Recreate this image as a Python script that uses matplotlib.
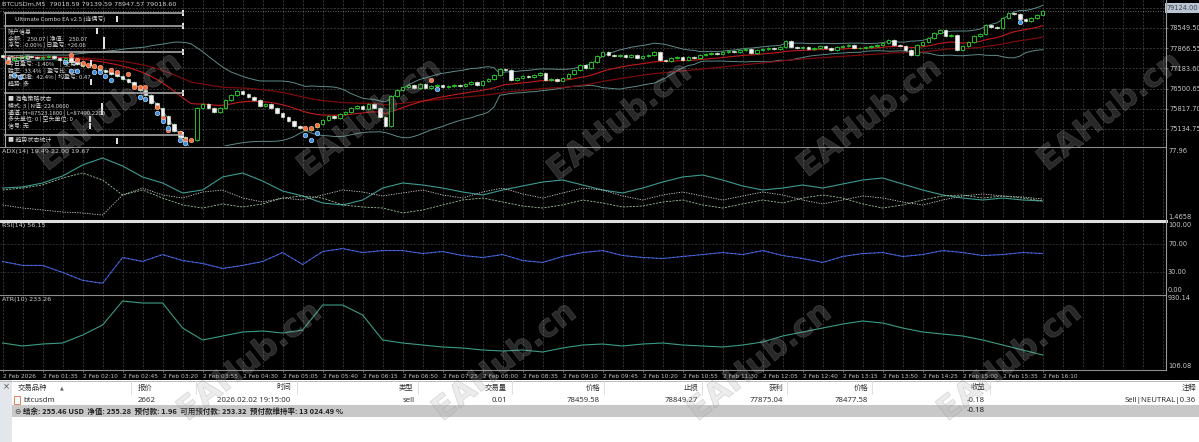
import numpy as np
import pandas as pd
import matplotlib
matplotlib.use("Agg")
import matplotlib.pyplot as plt
from matplotlib.patches import Rectangle
import matplotlib.patheffects as pe

plt.rcParams['font.family'] = ['Noto Sans CJK SC', 'DejaVu Sans']

W, H = 1199, 442

# ---------------- data ----------------
first_open = 77636
closes = [
    77569, 77467, 77535, 77569, 77603, 77569, 77535, 77569, 77603, 77535,
    77467, 77535, 77400, 77332, 77265, 77231, 77265, 77129, 77062, 76994,
    76926, 76825, 76724, 76588, 76453, 76284, 76014, 75845, 75574, 75304,
    75067, 74864, 74729, 74763, 75845, 75980, 75845, 75709, 75845, 76115,
    76284, 76419, 76318, 76216, 76115, 75912, 75980, 75845, 75676, 75540,
    75405, 75236, 75168, 75101, 75202, 75304, 75439, 75574, 75506, 75642,
    75709, 75845, 75912, 75811, 75980, 75845, 75540, 75236, 76250, 76453,
    76555, 76622, 76521, 76656, 76521, 76588, 76622, 76555, 76588, 76622,
    76588, 76656, 76724, 76622, 76757, 76825, 76960, 77163, 77129, 76791,
    76859, 76926, 76893, 76960, 77028, 76791, 76825, 76757, 76859, 76994,
    77129, 77298, 77197, 77400, 77603, 77738, 77636, 77603, 77636, 77569,
    77636, 77535, 77603, 77636, 77738, 77467, 77434, 77535, 77569, 77467,
    77569, 77535, 77636, 77670, 77704, 77670, 77738, 77772, 77738, 77806,
    77839, 77704, 77806, 77839, 77873, 77839, 77907, 78110, 77907, 77873,
    77907, 77839, 77873, 77941, 77873, 77806, 77907, 77941, 77975, 77873,
    77873, 77907, 77941, 77975, 78042, 78144, 77975, 77941, 77806, 77636,
    77975, 78076, 78211, 78380, 78482, 78279, 78313, 77806, 77941, 78076,
    78279, 78346, 78651, 78583, 78549, 78887, 79057, 79023, 78854, 78786,
    78887, 78989, 79124]
wick = 45

sell_idx = [1, 12, 13, 14, 15, 16, 17, 19, 20, 22, 23, 24, 25, 27, 28, 29, 31, 32, 33, 53, 54, 55, 75]
sell_px = [77400, 77636, 77467, 77366, 77298, 77265, 77231, 77129, 77062, 76994, 76555, 76555, 76555,
           75878, 75506, 75101, 75000, 74763, 74763, 75168, 75168, 75270, 76791]
buy_idx = [2, 3, 11, 12, 13, 16, 17, 18, 19, 24, 25, 27, 28, 29, 31, 32, 53, 54, 55, 76, 178]
buy_px = [76960, 76893, 77400, 77095, 77095, 77062, 77062, 76926, 76791, 76216, 76149, 75676, 75405,
          75168, 74763, 74661, 74932, 74763, 75000, 76487, 78752]

adx_vals = [34.4, 35.6, 40.0, 47.8, 60.0, 67.8, 58.9, 46.7, 40.0, 28.9, 32.2, 46.7, 51.1, 42.2, 31.1,
            25.6, 17.8, 15.6, 21.1, 34.4, 40.0, 37.8, 34.4, 30.0, 26.7, 32.2, 36.7, 41.1, 43.3, 37.8,
            32.2, 28.9, 34.4, 41.1, 46.7, 48.9, 43.3, 36.7, 32.2, 34.4, 37.8, 34.4, 38.9, 43.3, 45.6,
            38.9, 32.2, 26.7, 23.3, 21.1, 23.3, 21.1, 20.0]
plus_di = [15.6, 12.2, 10.0, 7.8, 6.7, 4.4, 26.7, 34.4, 26.7, 23.3, 30.0, 32.2, 23.3, 18.9, 23.3,
           21.1, 26.7, 32.2, 30.0, 25.6, 28.9, 32.2, 26.7, 23.3, 30.0, 34.4, 27.8, 23.3, 28.9, 34.4,
           32.2, 25.6, 21.1, 26.7, 30.0, 25.6, 21.1, 25.6, 30.0, 26.7, 21.1, 16.7, 21.1, 25.6, 23.3,
           18.9, 15.6, 21.1, 25.6, 27.8, 25.6, 24.4, 22.2]
minus_di = [32.2, 34.4, 37.8, 45.6, 51.1, 43.3, 26.7, 32.2, 23.3, 15.6, 12.2, 16.7, 13.3, 16.7, 23.3,
            25.6, 23.3, 15.6, 13.3, 12.2, 6.7, 10.0, 15.6, 21.1, 23.3, 18.9, 14.4, 12.2, 15.6, 21.1,
            17.8, 13.3, 14.4, 18.9, 21.1, 15.6, 12.2, 16.7, 21.1, 17.8, 23.3, 26.7, 23.3, 16.7, 12.2,
            15.6, 21.1, 25.6, 26.7, 23.3, 25.6, 23.3, 20.0]
rsi_vals = [45.2, 39.7, 39.7, 30.0, 19.0, 14.8, 50.7, 45.2, 54.8, 46.5, 42.4, 35.5, 39.7, 45.2, 57.6,
            41.0, 59.0, 63.1, 57.6, 60.3, 60.3, 56.2, 59.0, 53.4, 50.7, 54.8, 46.5, 43.8, 52.1, 57.6,
            60.3, 53.4, 50.7, 49.3, 52.1, 54.8, 57.6, 54.8, 60.3, 53.4, 49.3, 43.8, 52.1, 56.2, 57.6,
            52.1, 54.8, 60.3, 57.6, 53.4, 54.8, 57.6, 56.2]
atr_vals = [392.6, 356.8, 380.7, 392.6, 488.2, 607.6, 894.1, 870.2, 870.2, 571.7, 428.5, 476.2, 524.0,
            535.9, 512.0, 547.9, 846.4, 846.4, 727.0, 428.5, 392.6, 368.8, 344.9, 333.0, 309.1, 297.1,
            309.1, 285.2, 333.0, 368.8, 380.7, 356.8, 380.7, 392.6, 368.8, 356.8, 344.9, 368.8, 404.5,
            476.2, 524.0, 571.7, 619.5, 655.3, 631.4, 571.7, 524.0, 500.1, 476.2, 428.5, 368.8, 309.1,
            249.4]
ind_step = 3.5  # bars between indicator samples

time_labels = ["2 Feb 2026", "2 Feb 01:35", "2 Feb 02:10", "2 Feb 02:45", "2 Feb 03:20", "2 Feb 03:55",
               "2 Feb 04:30", "2 Feb 05:05", "2 Feb 05:40", "2 Feb 06:15", "2 Feb 06:50", "2 Feb 07:25",
               "2 Feb 08:00", "2 Feb 08:35", "2 Feb 09:10", "2 Feb 09:45", "2 Feb 10:20", "2 Feb 10:55",
               "2 Feb 11:30", "2 Feb 12:05", "2 Feb 12:40", "2 Feb 13:15", "2 Feb 13:50", "2 Feb 14:25",
               "2 Feb 15:00", "2 Feb 15:35", "2 Feb 16:10"]
price_grid = [79232.45, 78549.50, 77866.55, 77183.60, 76500.65, 75817.70, 75134.75]

table_headers = ["交易品种", "报价", "时间", "类型", "交易量", "价格", "止损", "获利", "价格", "收益", "注释"]
table_row = ["btcusdm", "2662", "2026.02.02 19:15:00", "sell", "0.01", "78459.58", "78849.27",
             "77875.04", "78477.58", "-0.18", "Sell|NEUTRAL|0.36"]
summary_text = "结余: 255.46 USD  净值: 255.28  预付款: 1.96  可用预付款: 253.32  预付款维持率: 13 024.49 %"
summary_profit = "-0.18"

# ---------------- figure ----------------
fig = plt.figure(figsize=(W / 100, H / 100), dpi=100)
fig.patch.set_facecolor('black')

XMIN, XMAX = -0.45, 203.4
GRID_C = '#4a4a4a'


def add_ax(x, y, w, h):
    a = fig.add_axes([x / W, 1 - (y + h) / H, w / W, h / H])
    a.set_facecolor('black')
    for s in a.spines.values():
        s.set_visible(False)
    a.set_xlim(XMIN, XMAX)
    a.tick_params(left=False, bottom=False, labelleft=False, labelbottom=False)
    a.vlines(np.arange(0, XMAX, 3.5), -1e6, 1e6, color=GRID_C, lw=0.5, ls=(0, (3, 2)), zorder=0)
    return a


ax = add_ax(0, 0, 1165, 146)
ax_adx = add_ax(0, 147, 1165, 72)
ax_rsi = add_ax(0, 222, 1165, 72)
ax_atr = add_ax(0, 295, 1165, 74)

# ---- main price pane ----
ax.set_ylim(74560, 79496)
ax.hlines(price_grid, XMIN, XMAX, color=GRID_C, lw=0.5, ls=(0, (3, 2)), zorder=0)

c = np.array(closes, float)
o = np.concatenate([[first_open], c[:-1]])
idx = np.arange(len(c))
hi = np.maximum(o, c) + wick
lo = np.minimum(o, c) - wick
up = c >= o
body_b = np.minimum(o, c)
body_h = np.maximum(np.abs(c - o), 14)

s = pd.Series(c)
mid = s.rolling(20, min_periods=1).mean()
sd = s.rolling(20, min_periods=1).std(ddof=0).fillna(0)
ema20 = s.ewm(span=20, adjust=False).mean()
ema50 = s.ewm(span=50, adjust=False).mean()
ax.plot(idx, mid + 2 * sd, color='#5f8a8a', lw=0.7, zorder=2)
ax.plot(idx, mid - 2 * sd, color='#5f8a8a', lw=0.7, zorder=2)
ax.plot(idx, ema50, color='#7a0c0c', lw=0.9, zorder=2)
ax.plot(idx, ema20, color='#c41a1a', lw=0.8, zorder=2)

ax.vlines(idx, lo, hi, color='#22c022', lw=0.7, zorder=3)
ax.bar(idx[up], body_h[up], bottom=body_b[up], width=0.62, color='black', edgecolor='#22c022',
       lw=0.7, zorder=4)
ax.bar(idx[~up], body_h[~up], bottom=body_b[~up], width=0.62, color='#f4f4f4', edgecolor='#f4f4f4',
       lw=0.4, zorder=4)

ax.scatter(sell_idx, sell_px, s=11, c='#ee6f3f', edgecolors='#ffb08a', linewidths=0.4, zorder=6)
ax.scatter(buy_idx, buy_px, s=11, c='#3b8fe0', edgecolors='#d8ecff', linewidths=0.4, zorder=6)

ax.axhline(closes[-1], color='#8a8a8a', lw=0.6, ls=(0, (1, 2)), zorder=1)

ax.yaxis.tick_right()
ax.set_yticks(price_grid[1:])
ax.set_yticklabels([f"{p:.2f}" for p in price_grid[1:]])
ax.tick_params(axis='y', right=True, labelright=True, length=2, width=0.5, color='#9a9a9a',
               labelsize=4.8, labelcolor='#c8c8c8', pad=1)
for t in ax.get_yticklabels():
    t.set_family('DejaVu Sans')
ax.text(1.0015, closes[-1] + 100, f"{closes[-1]:.2f}", transform=ax.get_yaxis_transform(),
        fontsize=4.8, color='#404040', va='center', ha='left', family='DejaVu Sans',
        bbox=dict(boxstyle='square,pad=0.25', fc='#b8c6d4', ec='none'), zorder=8, clip_on=False)

# ---- ADX pane ----
ind_x = np.arange(len(rsi_vals)) * ind_step
ax_adx.set_ylim(0, 80)
ax_adx.plot(ind_x, adx_vals, color='#3e9a92', lw=0.8)
ax_adx.plot(ind_x, plus_di, color='#cfcfcf', lw=0.6, ls=(0, (1.5, 1.5)))
ax_adx.plot(ind_x, minus_di, color='#9bc79b', lw=0.6, ls=(0, (2.5, 1.5)))

# ---- RSI pane ----
ax_rsi.set_ylim(0, 100)
ax_rsi.hlines([70, 30], XMIN, XMAX, color='#3a3a3a', lw=0.5, ls=(0, (3, 2)))
ax_rsi.plot(ind_x, rsi_vals, color='#3654c8', lw=0.8)
ax_rsi.plot(ind_x, rsi_vals, color='#9fb0f0', lw=0.5, ls=(0, (1, 5)))

# ---- ATR pane ----
ax_atr.set_ylim(82.2, 966.0)
ax_atr.plot(ind_x, atr_vals, color='#3a9c86', lw=0.8)
ax_atr.set_xticks(np.arange(len(time_labels)) * 7)
ax_atr.set_xticklabels(time_labels)
ax_atr.tick_params(axis='x', bottom=True, labelbottom=True, length=2, width=0.5, color='#9a9a9a',
                   labelsize=4.2, labelcolor='#c4c4c4', pad=1.5)
for t in ax_atr.get_xticklabels():
    t.set_ha('left')
    t.set_family('DejaVu Sans')

# ---------------- overlay in pixel coordinates ----------------
ov = fig.add_axes([0, 0, 1, 1])
ov.set_xlim(0, W)
ov.set_ylim(H, 0)
ov.axis('off')
ov.patch.set_alpha(0)
ov.set_zorder(10)

LC = '#cfcfcf'
# separators / borders
ov.plot([0, 1165.5], [146.5, 146.5], color='#8c8c8c', lw=0.8)
ov.plot([0, 1165.5], [220.8, 220.8], color='#dedede', lw=2.2)
ov.plot([0, 1165.5], [294.5, 294.5], color='#8c8c8c', lw=0.8)
ov.plot([0, 1165.5], [369.5, 369.5], color='#8c8c8c', lw=0.8)
ov.plot([1165.5, 1165.5], [0, 369.5], color='#9a9a9a', lw=0.8)

# title and indicator labels
ov.text(2, 4, "BTCUSDm,M5  79018.59 79139.59 78947.57 79018.60", fontsize=4.6, color=LC, va='center',
        family='DejaVu Sans')
ov.text(2, 152, "ADX(14) 19.49 22.00 19.67", fontsize=4.6, color=LC, va='center', family='DejaVu Sans')
ov.text(2, 226, "RSI(14) 56.15", fontsize=4.6, color=LC, va='center', family='DejaVu Sans')
ov.text(2, 299.5, "ATR(10) 233.26", fontsize=4.6, color=LC, va='center', family='DejaVu Sans')
for yy, tx in [(151, "77.96"), (217, "1.4658"), (225, "100.00"), (243.5, "70.00"), (272.5, "30.00"),
               (290, "0.00"), (298.5, "930.14"), (366.5, "106.08")]:
    ov.text(1168, yy, tx, fontsize=4.8, color='#c8c8c8', va='center', family='DejaVu Sans')

# info panel (EA dashboard)
PC = '#a8a8a8'
ov.plot([5, 5], [13, 147], color=PC, lw=0.8)
for yy in [13, 26, 52, 93, 135]:
    ov.plot([5, 183], [yy, yy], color=PC, lw=1.2)
    ov.add_patch(Rectangle((181.5, yy - 3), 2, 6, fc='#e8e8e8', ec='none'))
for (xx, yy) in [(116, 19), (96, 31), (103, 40), (103, 46), (90, 63), (90, 82), (101, 106), (101, 112),
                 (89, 119), (89, 126), (116, 141)]:
    ov.add_patch(Rectangle((xx, yy - 3), 1.6, 6, fc='#e0e0e0', ec='none'))
panel_lines = [
    (15, 19, "Ultimate Combo EA v2.5 (连偶亏)"),
    (8, 32, "账户信息"),
    (8, 38.5, "余额:    250.07 | 净值:    250.07"),
    (8, 45, "浮亏: -0.00% | 日盈亏: +26.06"),
    (8, 58, "统计信息"),
    (8, 64, "今日盈亏: -1.40%    |  交易: 6"),
    (8, 70.5, "胜率:  33.4%  | 盈亏比: 1.3"),
    (8, 77, "最大回撤:  42.4% | 均盈亏: 0.47"),
    (8, 83.5, "趋势: 多"),
    (8, 99, "■ 海龟策略状态"),
    (8, 106, "模式: 3 | N值: 224.0600"),
    (8, 112.5, "通道: H=87523.1800 | L=87490.2200"),
    (8, 119, "多头单位: 0 | 空头单位: 0"),
    (8, 125.5, "信号: 无"),
    (8, 140, "■ 趋势状态统计"),
]
for xx, yy, tx in panel_lines:
    ov.text(xx, yy, tx, fontsize=4.3, color='#d6d6d6', va='center')

# ---------------- terminal (trade) panel ----------------
ov.add_patch(Rectangle((0, 380), W, 62, fc='white', ec='none'))
ov.add_patch(Rectangle((0, 380), 12, 62, fc='#e3e6ea', ec='none'))
ov.plot([0, W], [380.5, 380.5], color='#b0b0b0', lw=0.6)
ov.text(6, 386.5, "×", fontsize=6, color='#505050', ha='center', va='center', family='DejaVu Sans')
TC = '#303030'
head_x = [18, 138, 291, 413, 507, 600, 698, 783, 868, 985, 1196]
head_ha = ['left', 'left', 'right', 'right', 'right', 'right', 'right', 'right', 'right', 'right', 'right']
row_x = [23, 138, 290, 415, 507, 600, 698, 783, 868, 985, 1196]
for xs in [131, 196, 297, 418, 512, 604, 702, 787, 872, 990]:
    ov.plot([xs, xs], [381, 394], color='#dcdcdc', lw=0.6)
for tx, xx, ha in zip(table_headers, head_x, head_ha):
    ov.text(xx, 387.5, tx, fontsize=5.3, color=TC, ha=ha, va='center')
ov.text(60, 387.5, "▲", fontsize=3.5, color='#606060', ha='left', va='center', family='DejaVu Sans')
ov.add_patch(Rectangle((13.5, 396), 6, 8, fc='white', ec='#e06a3a', lw=0.6))
for tx, xx, ha in zip(table_row, row_x, ['left'] + ['left'] + ['right'] * 9):
    ov.text(xx, 400, tx, fontsize=5.6, color=TC, ha=ha, va='center', family=['Noto Sans', 'DejaVu Sans'])
ov.add_patch(Rectangle((12, 405), W - 12, 12, fc='#c8c8c8', ec='none'))
ov.text(14, 411, "⊖", fontsize=5.5, color='#404040', ha='left', va='center', family='DejaVu Sans')
ov.text(23, 411, summary_text, fontsize=5.4, color='#202020', ha='left', va='center', fontweight='bold')
ov.text(985, 411, summary_profit, fontsize=5.6, color='#202020', ha='right', va='center',
        fontweight='bold', family=['Noto Sans', 'DejaVu Sans'])

# ---------------- watermarks ----------------
wm_pos = [(110, 112), (370, 118), (620, 122), (870, 118), (1110, 112),
          (250, 362), (505, 362), (760, 362), (1010, 362)]
for cx, cy in wm_pos:
    ov.text(cx, cy, "EAHub.cn", rotation=38, ha='center', va='center', fontsize=23,
            fontweight='bold', family='DejaVu Sans', color=(0.7, 0.7, 0.7, 0.12),
            path_effects=[pe.withStroke(linewidth=0.6, foreground=(0.55, 0.55, 0.55, 0.28))])

fig.savefig('out.png', dpi=100, facecolor=fig.get_facecolor())
